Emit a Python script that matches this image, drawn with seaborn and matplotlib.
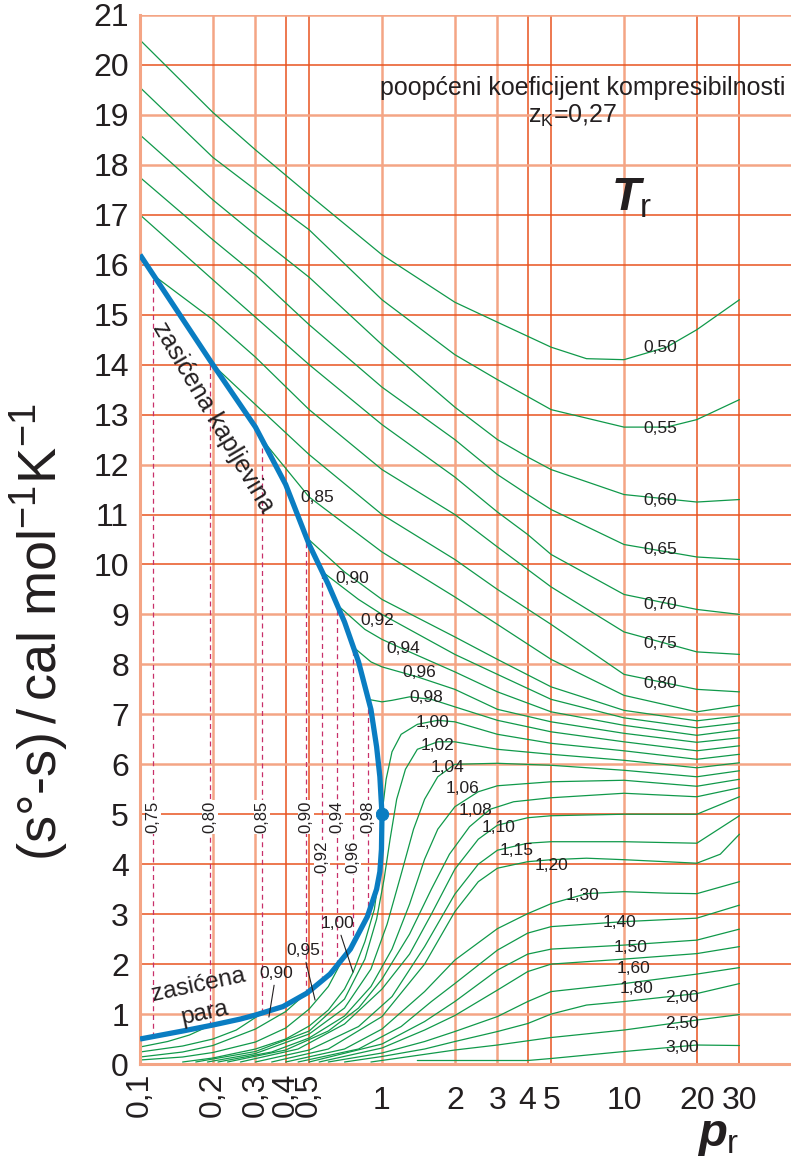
import numpy as np
import pandas as pd
import matplotlib
matplotlib.use("Agg")
import matplotlib.pyplot as plt
import seaborn as sns

# ---------------- data (p_r, (s°-s) in cal/mol/K) ----------------
sat_liquid = [(0.1, 16.2), (0.2, 14.0), (0.3, 12.75), (0.4, 11.6), (0.5, 10.4), (0.6, 9.6),
              (0.7, 8.85), (0.8, 8.05), (0.9, 7.1), (0.95, 6.35), (0.98, 5.75), (1.0, 5.0)]
sat_vapour = [(1.0, 5.0), (0.995, 4.3), (0.98, 3.85), (0.95, 3.5), (0.87, 2.95), (0.74, 2.3),
              (0.61, 1.8), (0.49, 1.42), (0.39, 1.15), (0.3, 0.98), (0.26, 0.9), (0.2, 0.78),
              (0.15, 0.66), (0.1, 0.5)]
critical_point = (1.0, 5.0)

liq_050 = [(0.1, 20.5), (0.2, 19.05), (0.3, 18.3), (0.5, 17.4), (1, 16.2), (2, 15.25), (3, 14.85),
           (5, 14.35), (7, 14.12), (10, 14.1), (15, 14.35), (20, 14.7), (30, 15.3)]
liq_055 = [(0.1, 19.55), (0.2, 18.15), (0.3, 17.5), (0.5, 16.7), (1, 15.3), (2, 14.2), (3, 13.7),
           (5, 13.1), (10, 12.75), (15, 12.75), (20, 12.9), (30, 13.3)]
liq_060 = [(0.1, 18.6), (0.2, 17.3), (0.3, 16.6), (0.5, 15.75), (1, 14.4), (2, 13.15), (3, 12.5),
           (4, 12.15), (5, 11.9), (10, 11.4), (20, 11.25), (30, 11.3)]
liq_065 = [(0.1, 17.75), (0.2, 16.5), (0.3, 15.8), (0.5, 14.8), (1, 13.55), (2, 12.5), (3, 11.8),
           (4, 11.4), (5, 11.1), (10, 10.4), (20, 10.15), (30, 10.1)]
liq_070 = [(0.1, 17.0), (0.2, 15.7), (0.3, 14.95), (0.5, 14.0), (1, 12.8), (2, 11.75), (3, 11.05),
           (4, 10.6), (5, 10.2), (10, 9.4), (20, 9.1), (30, 9.0)]
liq_075 = [(0.113, 15.8), (0.2, 14.9), (0.3, 14.15), (0.5, 13.1), (1, 11.9), (2, 11.0), (3, 10.35),
           (4, 9.9), (5, 9.55), (10, 8.65), (20, 8.25), (30, 8.2)]
liq_080 = [(0.195, 14.05), (0.3, 13.2), (0.5, 12.2), (1, 11.0), (2, 10.1), (3, 9.5), (5, 8.8),
           (10, 7.8), (20, 7.5), (30, 7.45)]
liq_085 = [(0.32, 12.5), (0.5, 11.35), (1, 10.25), (2, 9.35), (3, 8.8), (5, 8.1), (10, 7.38),
           (20, 7.05), (30, 7.18)]
liq_090 = [(0.485, 10.55), (0.7, 9.85), (1, 9.3), (2, 8.55), (3, 8.1), (5, 7.55), (10, 7.08),
           (20, 6.87), (30, 6.97)]
liq_092 = [(0.565, 9.86), (0.8, 9.3), (1, 9.0), (2, 8.2), (3, 7.8), (5, 7.3), (10, 6.93),
           (20, 6.73), (30, 6.83)]
liq_094 = [(0.65, 9.2), (0.85, 8.7), (1, 8.5), (1.3, 8.25), (2, 7.85), (3, 7.45), (5, 7.05),
           (10, 6.78), (20, 6.58), (30, 6.69)]
liq_096 = [(0.76, 8.35), (0.9, 8.05), (1, 7.95), (1.4, 7.75), (2, 7.5), (3, 7.1), (5, 6.85),
           (10, 6.62), (20, 6.44), (30, 6.53)]
liq_098 = [(0.875, 7.3), (1, 7.25), (1.1, 7.28), (1.3, 7.35), (1.6, 7.3), (2, 7.15), (3, 6.88),
           (5, 6.65), (10, 6.45), (20, 6.27), (30, 6.37)]

gas_080 = [(0.1, 0.34), (0.13, 0.45), (0.16, 0.58), (0.195, 0.77)]
gas_085 = [(0.1, 0.24), (0.15, 0.36), (0.2, 0.5), (0.25, 0.68), (0.32, 1.02)]
gas_090 = [(0.1, 0.14), (0.15, 0.24), (0.2, 0.37), (0.3, 0.7), (0.4, 1.05), (0.485, 1.41)]
gas_095 = [(0.1, 0.08), (0.15, 0.14), (0.2, 0.23), (0.3, 0.44), (0.4, 0.72), (0.5, 1.1),
           (0.6, 1.55), (0.7, 2.16)]

sc_100 = [(0.15, 0.04), (0.2, 0.12), (0.3, 0.3), (0.4, 0.5), (0.5, 0.76), (0.6, 1.08), (0.7, 1.5),
          (0.76, 1.84), (0.85, 2.45), (0.93, 3.1), (0.98, 3.9), (1.0, 5.0), (1.04, 5.7),
          (1.1, 6.25), (1.2, 6.6), (1.4, 6.8), (1.7, 6.88), (2, 6.85), (3, 6.6), (5, 6.42),
          (10, 6.27), (20, 6.1), (30, 6.2)]
sc_102 = [(0.17, 0.04), (0.3, 0.25), (0.5, 0.66), (0.7, 1.3), (0.85, 2.1), (0.95, 2.9),
          (1.02, 3.7), (1.08, 4.5), (1.15, 5.3), (1.25, 5.9), (1.4, 6.3), (1.7, 6.45), (2, 6.45),
          (3, 6.3), (5, 6.2), (10, 6.08), (20, 5.93), (30, 6.03)]
sc_104 = [(0.19, 0.04), (0.3, 0.21), (0.5, 0.6), (0.7, 1.12), (0.9, 1.9), (1.05, 2.8), (1.2, 3.8),
          (1.35, 4.7), (1.5, 5.3), (1.7, 5.75), (2, 6.0), (3, 6.02), (5, 5.98), (10, 5.88),
          (20, 5.75), (30, 5.87)]
sc_106 = [(0.21, 0.04), (0.35, 0.24), (0.5, 0.52), (0.7, 0.96), (0.9, 1.55), (1.1, 2.3),
          (1.3, 3.2), (1.5, 4.1), (1.7, 4.7), (2, 5.15), (2.5, 5.45), (3, 5.57), (5, 5.65),
          (10, 5.68), (20, 5.56), (30, 5.7)]
sc_108 = [(0.23, 0.04), (0.4, 0.28), (0.6, 0.66), (0.8, 1.12), (1, 1.7), (1.3, 2.6), (1.6, 3.5),
          (1.9, 4.2), (2.3, 4.75), (2.8, 5.1), (3.5, 5.25), (5, 5.33), (10, 5.42), (20, 5.35),
          (30, 5.53)]
sc_110 = [(0.26, 0.04), (0.45, 0.3), (0.7, 0.8), (1, 1.5), (1.3, 2.2), (1.6, 3.0), (2, 3.9),
          (2.5, 4.5), (3, 4.78), (4, 4.93), (5, 4.97), (10, 5.0), (20, 5.0), (30, 5.35)]
sc_115 = [(0.3, 0.04), (0.5, 0.28), (0.8, 0.75), (1.1, 1.35), (1.5, 2.35), (2, 3.4), (2.5, 4.0),
          (3, 4.28), (4, 4.42), (5, 4.45), (10, 4.45), (20, 4.42), (30, 4.97)]
sc_120 = [(0.35, 0.04), (0.6, 0.3), (1, 0.95), (1.5, 2.0), (2, 3.05), (2.5, 3.65), (3, 3.92),
          (4, 4.05), (5, 4.09), (7, 4.12), (10, 4.09), (20, 4.02), (25, 4.2), (30, 4.6)]
sc_130 = [(0.4, 0.04), (0.7, 0.3), (1, 0.7), (1.5, 1.45), (2, 2.08), (3, 2.71), (4, 3.01),
          (5, 3.21), (7, 3.41), (10, 3.45), (15, 3.42), (20, 3.41), (30, 3.65)]
sc_140 = [(0.45, 0.04), (0.8, 0.3), (1.2, 0.75), (1.6, 1.25), (2, 1.61), (3, 2.28), (4, 2.62),
          (5, 2.75), (10, 2.85), (20, 2.92), (30, 3.18)]
sc_150 = [(0.5, 0.04), (1, 0.4), (1.5, 0.85), (2, 1.25), (3, 1.88), (4, 2.2), (5, 2.3),
          (10, 2.38), (20, 2.48), (30, 2.7)]
sc_160 = [(0.55, 0.04), (1, 0.32), (1.5, 0.68), (2, 0.97), (3, 1.48), (4, 1.85), (5, 2.0),
          (10, 2.1), (20, 2.21), (30, 2.35)]
sc_180 = [(0.6, 0.04), (1, 0.22), (1.5, 0.45), (2, 0.65), (3, 0.95), (4, 1.25), (5, 1.45),
          (10, 1.61), (20, 1.8), (30, 1.93)]
sc_200 = [(0.7, 0.04), (1, 0.15), (1.5, 0.3), (2, 0.45), (3, 0.65), (4, 0.81), (5, 1.0),
          (7, 1.18), (10, 1.25), (20, 1.41), (30, 1.61)]
sc_250 = [(0.9, 0.04), (1.3, 0.15), (2, 0.28), (3, 0.38), (5, 0.53), (10, 0.68), (20, 0.88),
          (30, 0.99)]
sc_300 = [(1.4, 0.07), (2, 0.07), (4, 0.07), (5, 0.11), (10, 0.25), (20, 0.38), (30, 0.37)]

# saturation (dashed) lines
sat_Tr = ["0,75", "0,80", "0,85", "0,90", "0,92", "0,94", "0,96", "0,98"]
sat_p = [0.113, 0.195, 0.319, 0.485, 0.565, 0.652, 0.759, 0.875]
sat_label_s = [4.94, 4.94, 4.94, 4.94, 4.14, 4.94, 4.14, 4.94]

# curve labels: (text, p, s)
right_labels = [("0,50", 14.1, 14.34), ("0,55", 14.1, 12.72), ("0,60", 14.1, 11.28),
                ("0,65", 14.1, 10.3), ("0,70", 14.1, 9.2), ("0,75", 14.1, 8.42),
                ("0,80", 14.1, 7.62)]
mid_labels = [("0,85", 0.54, 11.34), ("0,90", 0.75, 9.72), ("0,92", 0.96, 8.88),
              ("0,94", 1.22, 8.32), ("0,96", 1.43, 7.84), ("0,98", 1.53, 7.34),
              ("1,00", 1.61, 6.84), ("1,02", 1.70, 6.38), ("1,04", 1.87, 5.94),
              ("1,06", 2.16, 5.52), ("1,08", 2.44, 5.08), ("1,10", 3.04, 4.74),
              ("1,15", 3.61, 4.28), ("1,20", 5.04, 3.98), ("1,30", 6.77, 3.38),
              ("1,40", 9.62, 2.84), ("1,50", 10.6, 2.34), ("1,60", 10.9, 1.92),
              ("1,80", 11.3, 1.52), ("2,00", 17.4, 1.34), ("2,50", 17.4, 0.82),
              ("3,00", 17.4, 0.34)]
# gas-region labels with leader: (text, text_p, text_s, tip_p, tip_s)
gas_labels = [("0,90", 0.365, 1.82, 0.341, 0.94), ("0,95", 0.472, 2.28, 0.529, 1.28),
              ("1,00", 0.652, 2.82, 0.759, 1.84)]

x_ticks = [0.1, 0.2, 0.3, 0.4, 0.5, 1, 2, 3, 4, 5, 10, 20, 30]
x_tick_labels = ["0,1", "0,2", "0,3", "0,4", "0,5", "1", "2", "3", "4", "5", "10", "20", "30"]
y_ticks = list(range(0, 22))

# ---------------- style ----------------
sns.set_theme(style="white")
plt.rcParams["font.family"] = ["Liberation Sans", "DejaVu Sans"]
plt.rcParams["mathtext.fontset"] = "custom"
plt.rcParams["mathtext.rm"] = "Liberation Sans"
plt.rcParams["mathtext.it"] = "Liberation Sans:italic:bold"
plt.rcParams["mathtext.bf"] = "Liberation Sans:bold"

GREEN = "#10994a"
BLUE = "#0a7dc2"
DASH = "#c8306a"
GRID_D = "#e8531f"
GRID_L = "#f4a585"
TXT = "#231f20"
LAB = 12.5

fig = plt.figure(figsize=(7.91, 11.6), dpi=100)
ax = fig.add_axes([140 / 791, 96 / 1160, 651 / 791, 1049 / 1160])
ax.set_xscale("log")
ax.set_xlim(0.1, 49)
ax.set_ylim(0, 21)

# grid
light_x = {0.2, 0.3, 1, 2, 3, 10}
for xv in x_ticks[1:]:
    light = xv in light_x
    ax.axvline(xv, color=GRID_L if light else GRID_D, lw=1.8 if light else 1.1, zorder=0.5)
light_y = {21, 19, 18, 12, 9, 8, 7, 6, 1}
for yv in y_ticks[1:]:
    light = yv in light_y
    ax.axhline(yv, color=GRID_L if light else GRID_D, lw=1.8 if light else 1.1, zorder=0.5)

# green isotherms
curves = {
    "liq_050": liq_050, "liq_055": liq_055, "liq_060": liq_060, "liq_065": liq_065,
    "liq_070": liq_070, "liq_075": liq_075, "liq_080": liq_080, "liq_085": liq_085,
    "liq_090": liq_090, "liq_092": liq_092, "liq_094": liq_094, "liq_096": liq_096,
    "liq_098": liq_098, "gas_080": gas_080, "gas_085": gas_085, "gas_090": gas_090,
    "gas_095": gas_095, "sc_100": sc_100, "sc_102": sc_102, "sc_104": sc_104,
    "sc_106": sc_106, "sc_108": sc_108, "sc_110": sc_110, "sc_115": sc_115,
    "sc_120": sc_120, "sc_130": sc_130, "sc_140": sc_140, "sc_150": sc_150,
    "sc_160": sc_160, "sc_180": sc_180, "sc_200": sc_200, "sc_250": sc_250,
    "sc_300": sc_300,
}
rows = []
for name, pts in curves.items():
    for i, (p, s) in enumerate(pts):
        rows.append({"curve": name, "order": i, "p": p, "s": s})
df = pd.DataFrame(rows)
sns.lineplot(data=df, x="p", y="s", units="curve", estimator=None, sort=False,
             color=GREEN, linewidth=0.9, ax=ax, legend=False, zorder=2)

# saturation dome
blue = pd.DataFrame(sat_liquid + sat_vapour[1:], columns=["p", "s"])
sns.lineplot(data=blue, x="p", y="s", estimator=None, sort=False, color=BLUE,
             linewidth=3.8, ax=ax, zorder=3, solid_capstyle="butt")
sns.scatterplot(x=[critical_point[0]], y=[critical_point[1]], s=80, color=BLUE,
                edgecolor=BLUE, ax=ax, zorder=4, legend=False)

# dashed saturation pressures
liq_arr = np.array(sat_liquid)
vap_arr = np.array(sorted(sat_vapour))
for lab, p, ls in zip(sat_Tr, sat_p, sat_label_s):
    top = np.interp(np.log10(p), np.log10(liq_arr[:, 0]), liq_arr[:, 1])
    bot = np.interp(np.log10(p), np.log10(vap_arr[:, 0]), vap_arr[:, 1])
    ax.vlines(p, bot, top, colors=DASH, linestyles=(0, (4, 3)), lw=0.9, zorder=1.5)
    ax.text(p, ls, lab, rotation=90, ha="center", va="center", fontsize=LAB - 0.5, color=TXT,
            zorder=4, bbox=dict(facecolor="white", edgecolor="none", pad=0.5))

# labels
for t, p, s in right_labels + mid_labels:
    ax.text(p, s, t, ha="center", va="center", fontsize=LAB, color=TXT, zorder=5)
for t, tp, ts, ip, is_ in gas_labels:
    ax.annotate(t, xy=(ip, is_), xytext=(tp, ts), ha="center", va="center", fontsize=LAB,
                color=TXT, zorder=5,
                arrowprops=dict(arrowstyle="-", color=TXT, lw=0.8, shrinkA=1, shrinkB=0))

ax.text(0.2, 12.94, "zasićena kapljevina", rotation=-59.5, rotation_mode="anchor",
        ha="center", va="center", fontsize=18, color=TXT, zorder=5)
ax.text(0.175, 1.58, "zasićena", rotation=12, rotation_mode="anchor",
        ha="center", va="center", fontsize=17.5, color=TXT, zorder=5)
ax.text(0.186, 1.02, "para", rotation=12, rotation_mode="anchor",
        ha="center", va="center", fontsize=17.5, color=TXT, zorder=5)

# ticks
ax.set_xticks(x_ticks)
ax.set_xticklabels(x_tick_labels)
ax.xaxis.set_minor_locator(matplotlib.ticker.NullLocator())
ax.set_yticks(y_ticks)
ax.set_yticklabels([str(v) for v in y_ticks])
ax.tick_params(axis="both", length=0, labelsize=23, colors=TXT)
ax.tick_params(axis="y", pad=8)
for i, tk in enumerate(ax.xaxis.get_major_ticks()):
    if i < 5:
        tk.label1.set_rotation(90)
        tk.set_pad(6)
    else:
        tk.set_pad(16)
ax.set_xlabel("")
ax.set_ylabel("")

for side in ["top", "right"]:
    ax.spines[side].set_visible(False)
for side in ["left", "bottom"]:
    ax.spines[side].set_color(GRID_L)
    ax.spines[side].set_linewidth(2.2)

# axis titles and notes
fig.text(40 / 791, 1 - 632 / 1160, r"(s°-s)$\,$/$\,$cal mol$^{-1}$K$^{-1}$", rotation=90,
         ha="center", va="center", fontsize=39, color=TXT)
fig.text(718 / 791, 1 - 1136 / 1160, r"$p_{\rm r}$", ha="center", va="center",
         fontsize=34, color=TXT)
fig.text(785 / 791, 1 - 88 / 1160, "poopćeni koeficijent kompresibilnosti", ha="right",
         va="center", fontsize=18, color=TXT)
fig.text(573 / 791, 1 - 116 / 1160, r"z$_{\rm K}$=0,27", ha="center", va="center",
         fontsize=18, color=TXT)
fig.text(632 / 791, 1 - 198 / 1160, r"$T_{\rm r}$", ha="center", va="center",
         fontsize=34, color=TXT)

fig.savefig("out.png", dpi=100)
